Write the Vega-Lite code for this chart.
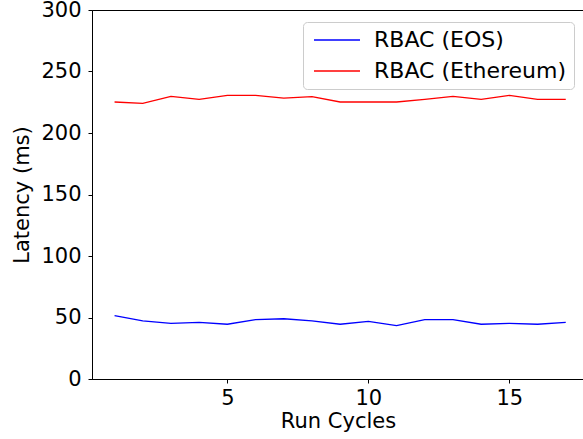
{
  "$schema": "https://vega.github.io/schema/vega-lite/v6.json",
  "width": 492,
  "height": 369,
  "autosize": {"type": "none"},
  "padding": {"left": 92, "top": 10, "right": 0, "bottom": 60},
  "background": "white",
  "config": {
    "font": "DejaVu Sans",
    "view": {"stroke": "black", "strokeWidth": 1},
    "axis": {"grid": false, "domainColor": "black", "tickColor": "black", "labelColor": "black", "titleColor": "black", "labelFont": "DejaVu Sans", "titleFont": "DejaVu Sans", "labelFontSize": 21, "titleFontSize": 21, "titleFontWeight": "normal", "tickSize": 4, "domainWidth": 1, "tickWidth": 1}
  },
  "data": {"values": [
    {"series": "RBAC (EOS)", "cycle": 1, "latency": 51.5},
    {"series": "RBAC (EOS)", "cycle": 2, "latency": 47.2},
    {"series": "RBAC (EOS)", "cycle": 3, "latency": 45.3},
    {"series": "RBAC (EOS)", "cycle": 4, "latency": 46.1},
    {"series": "RBAC (EOS)", "cycle": 5, "latency": 44.5},
    {"series": "RBAC (EOS)", "cycle": 6, "latency": 48.2},
    {"series": "RBAC (EOS)", "cycle": 7, "latency": 49.0},
    {"series": "RBAC (EOS)", "cycle": 8, "latency": 47.2},
    {"series": "RBAC (EOS)", "cycle": 9, "latency": 44.5},
    {"series": "RBAC (EOS)", "cycle": 10, "latency": 46.9},
    {"series": "RBAC (EOS)", "cycle": 11, "latency": 43.4},
    {"series": "RBAC (EOS)", "cycle": 12, "latency": 48.2},
    {"series": "RBAC (EOS)", "cycle": 13, "latency": 48.2},
    {"series": "RBAC (EOS)", "cycle": 14, "latency": 44.5},
    {"series": "RBAC (EOS)", "cycle": 15, "latency": 45.3},
    {"series": "RBAC (EOS)", "cycle": 16, "latency": 44.5},
    {"series": "RBAC (EOS)", "cycle": 17, "latency": 46.1},
    {"series": "RBAC (Ethereum)", "cycle": 1, "latency": 225.2},
    {"series": "RBAC (Ethereum)", "cycle": 2, "latency": 224.1},
    {"series": "RBAC (Ethereum)", "cycle": 3, "latency": 229.8},
    {"series": "RBAC (Ethereum)", "cycle": 4, "latency": 227.4},
    {"series": "RBAC (Ethereum)", "cycle": 5, "latency": 230.6},
    {"series": "RBAC (Ethereum)", "cycle": 6, "latency": 230.6},
    {"series": "RBAC (Ethereum)", "cycle": 7, "latency": 228.4},
    {"series": "RBAC (Ethereum)", "cycle": 8, "latency": 229.5},
    {"series": "RBAC (Ethereum)", "cycle": 9, "latency": 225.2},
    {"series": "RBAC (Ethereum)", "cycle": 10, "latency": 225.2},
    {"series": "RBAC (Ethereum)", "cycle": 11, "latency": 225.2},
    {"series": "RBAC (Ethereum)", "cycle": 12, "latency": 227.4},
    {"series": "RBAC (Ethereum)", "cycle": 13, "latency": 229.8},
    {"series": "RBAC (Ethereum)", "cycle": 14, "latency": 227.4},
    {"series": "RBAC (Ethereum)", "cycle": 15, "latency": 230.6},
    {"series": "RBAC (Ethereum)", "cycle": 16, "latency": 227.4},
    {"series": "RBAC (Ethereum)", "cycle": 17, "latency": 227.4}
  ]},
  "mark": {"type": "line", "strokeWidth": 1.3, "clip": true},
  "encoding": {
    "x": {"field": "cycle", "type": "quantitative",
      "scale": {"domain": [0.2, 17.647], "nice": false, "zero": false},
      "axis": {"values": [5, 10, 15], "title": "Run Cycles", "labelPadding": 4, "titlePadding": 2}},
    "y": {"field": "latency", "type": "quantitative",
      "scale": {"domain": [0, 300], "nice": false},
      "axis": {"values": [0, 50, 100, 150, 200, 250, 300], "title": "Latency (ms)", "labelPadding": 7, "titlePadding": 8}},
    "color": {"field": "series", "type": "nominal",
      "scale": {"domain": ["RBAC (EOS)", "RBAC (Ethereum)"], "range": ["#0000ff", "#ff0000"]},
      "legend": {"title": null, "orient": "none", "legendX": 211, "legendY": 12, "symbolType": "M-3,0H3", "symbolSize": 235, "symbolOffset": 16, "symbolStrokeWidth": 1.3, "labelFontSize": 22, "labelFont": "DejaVu Sans", "labelColor": "black", "labelLimit": 400, "padding": 7, "rowPadding": 9, "labelOffset": 26, "strokeColor": "#cccccc", "fillColor": "white", "cornerRadius": 4}}
  }
}
